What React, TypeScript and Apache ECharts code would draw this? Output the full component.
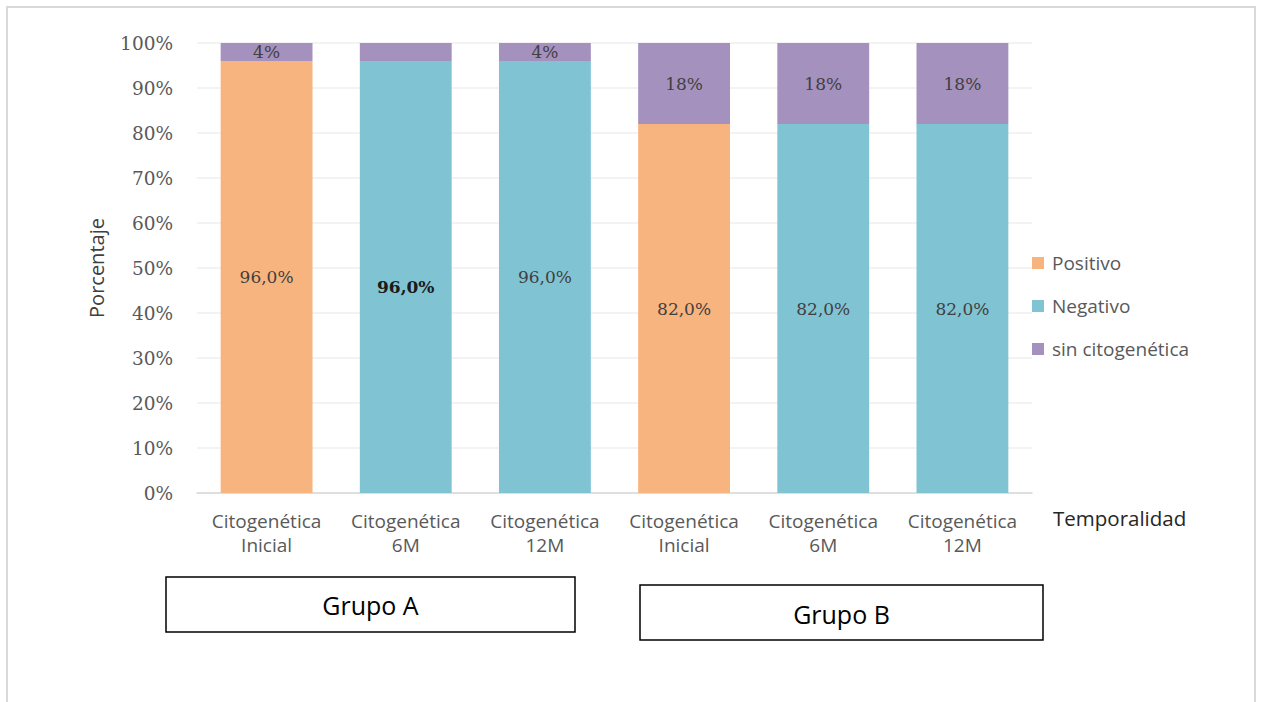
import React, { useEffect, useRef } from "react";
import * as echarts from "echarts";

const categories = [
  "Citogenética\nInicial",
  "Citogenética\n6M",
  "Citogenética\n12M",
  "Citogenética\nInicial",
  "Citogenética\n6M",
  "Citogenética\n12M",
];
const positivo = [96, 0, 0, 82, 0, 0];
const negativo = [0, 96, 96, 0, 82, 82];
const sinCitogenetica = [4, 4, 4, 18, 18, 18];
const sinCitogeneticaLabels = ["4%", "", "4%", "18%", "18%", "18%"];
const yTicks = [0, 10, 20, 30, 40, 50, 60, 70, 80, 90, 100];
const groupNames = ["Grupo A", "Grupo B"];

const C_POS = "#F8B47E";
const C_NEG = "#80C4D4";
const C_SIN = "#A591BE";

const SERIF = "'DejaVu Serif', serif";
const SANS = "'Open Sans', 'Noto Sans', sans-serif";

const fmtDec = (v: number) => (v ? v.toFixed(1).replace(".", ",") + "%" : "");

export default function App() {
  const ref = useRef<HTMLDivElement>(null);
  useEffect(() => {
    if (!ref.current) return;
    const chart = echarts.init(ref.current, null, { renderer: "svg" });
    const mainLabel = {
      show: true,
      position: "inside" as const,
      color: "#404040",
      fontFamily: SERIF,
      fontSize: 17,
      formatter: (p: any) => fmtDec(p.value),
    };
    chart.setOption({
      animation: false,
      backgroundColor: "#ffffff",
      grid: { left: 197, right: 229, top: 43, bottom: 209, containLabel: false },
      legend: {
        orient: "vertical",
        left: 1027,
        top: 247,
        itemWidth: 12,
        itemHeight: 12,
        itemGap: 21,
        icon: "rect",
        data: ["Positivo", "Negativo", "sin citogenética"],
        textStyle: {
          fontFamily: SANS,
          fontSize: 19,
          color: "#595959",
          lineHeight: 22,
          padding: [0, 0, 0, 3],
        },
      },
      xAxis: {
        type: "category",
        data: categories,
        name: "Temporalidad",
        nameLocation: "end",
        nameGap: 21,
        nameTextStyle: {
          fontFamily: SANS,
          fontSize: 20.5,
          color: "#262626",
          verticalAlign: "top",
          padding: [14, 0, 0, 0],
        },
        axisLine: { show: true, lineStyle: { color: "#d9d9d9", width: 1.5 } },
        axisTick: { show: false },
        axisLabel: {
          interval: 0,
          margin: 16,
          fontFamily: SANS,
          fontSize: 19,
          lineHeight: 24,
          color: "#595959",
        },
      },
      yAxis: {
        type: "value",
        min: yTicks[0],
        max: yTicks[yTicks.length - 1],
        interval: 10,
        name: "Porcentaje",
        nameLocation: "middle",
        nameGap: 91,
        nameTextStyle: { fontFamily: SANS, fontSize: 20, color: "#404040" },
        axisLine: { show: false },
        axisTick: { show: false },
        splitLine: { lineStyle: { color: "#efefef", width: 1.5 } },
        axisLabel: {
          margin: 24,
          fontFamily: SERIF,
          fontSize: 18.5,
          color: "#595959",
          formatter: (v: number) => v + "%",
        },
      },
      series: [
        {
          name: "Positivo",
          type: "bar",
          stack: "total",
          barCategoryGap: "34%",
          itemStyle: { color: C_POS },
          label: mainLabel,
          data: positivo,
        },
        {
          name: "Negativo",
          type: "bar",
          stack: "total",
          barCategoryGap: "34%",
          itemStyle: { color: C_NEG },
          label: mainLabel,
          data: negativo.map((v, i) =>
            i === 1
              ? { value: v, label: { offset: [0, 10], color: "#1a1a1a", fontWeight: 600 } }
              : v
          ),
        },
        {
          name: "sin citogenética",
          type: "bar",
          stack: "total",
          barCategoryGap: "34%",
          itemStyle: { color: C_SIN },
          label: {
            show: true,
            position: "inside",
            color: "#404040",
            fontFamily: SERIF,
            fontSize: 17,
            formatter: (p: any) => sinCitogeneticaLabels[p.dataIndex],
          },
          data: sinCitogenetica,
        },
      ],
      graphic: [
        {
          type: "rect",
          silent: true,
          shape: { x: 7, y: 7, width: 1248, height: 740 },
          style: { fill: "none", stroke: "#d9d9d9", lineWidth: 2 },
        },
        {
          type: "rect",
          shape: { x: 166, y: 577, width: 409, height: 55 },
          style: { fill: "#ffffff", stroke: "#000000", lineWidth: 1.5 },
        },
        {
          type: "text",
          x: 370.5,
          y: 605,
          style: {
            text: groupNames[0],
            fill: "#000000",
            font: "25px 'Open Sans', sans-serif",
            align: "center",
            verticalAlign: "middle",
          },
        },
        {
          type: "rect",
          shape: { x: 640, y: 585, width: 403, height: 55 },
          style: { fill: "#ffffff", stroke: "#000000", lineWidth: 1.5 },
        },
        {
          type: "text",
          x: 841.5,
          y: 614,
          style: {
            text: groupNames[1],
            fill: "#000000",
            font: "25px 'Open Sans', sans-serif",
            align: "center",
            verticalAlign: "middle",
          },
        },
      ],
    });
    return () => chart.dispose();
  }, []);
  return (
    <div
      ref={ref}
      style={{ position: "fixed", left: 0, top: 0, width: 1261, height: 702 }}
    />
  );
}
